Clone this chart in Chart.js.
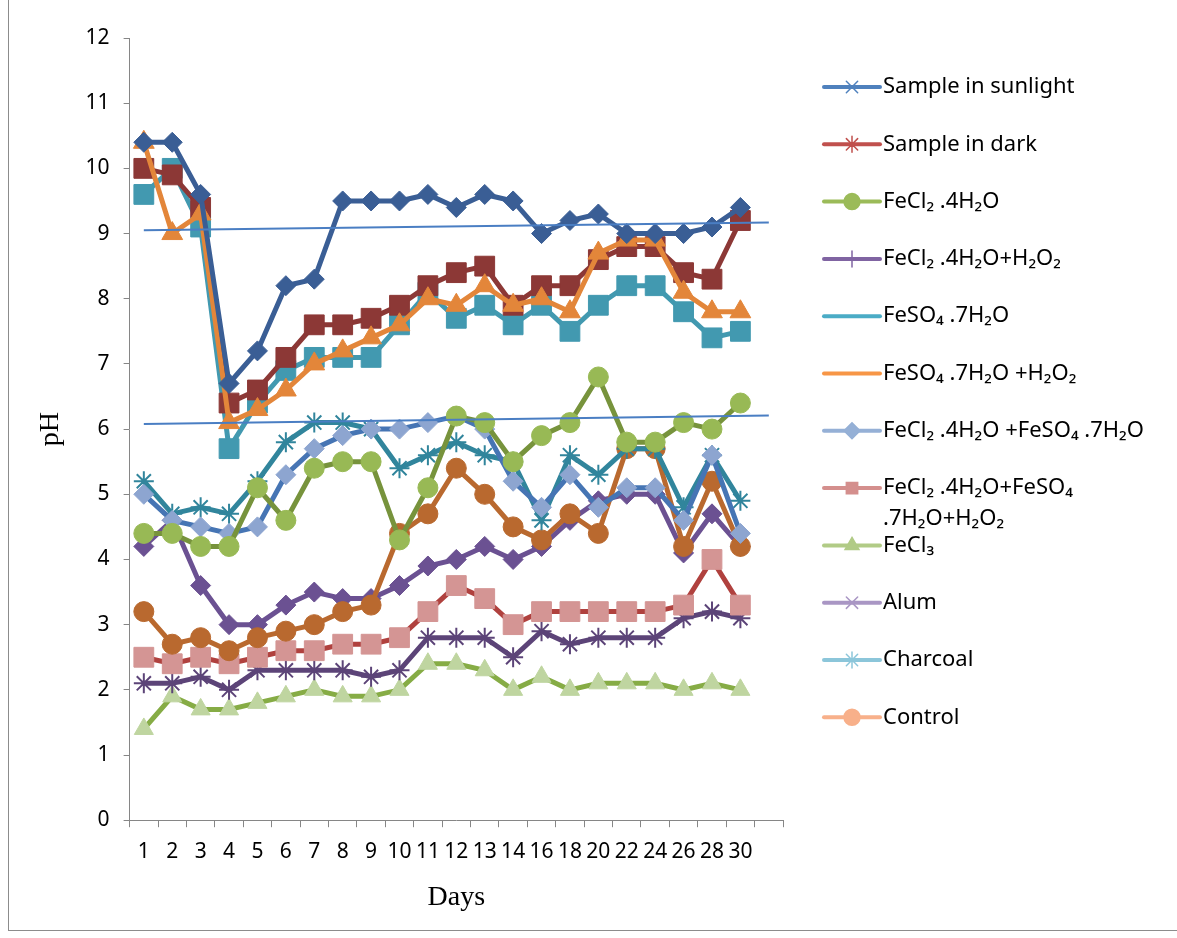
<!DOCTYPE html>
<html>
<head>
<meta charset="utf-8">
<script src="https://cdn.jsdelivr.net/npm/chart.js@4"></script>
<style>
  body { margin: 0; background: #fff; }
  #frame { position: absolute; left: 8px; top: -2px; width: 1169px; height: 933px; border-left: 1px solid #8c8c8c; border-bottom: 1px solid #8c8c8c; box-sizing: border-box; }
  #wrap { position: absolute; left: 9px; top: 0; width: 1168px; height: 929px; }
</style>
</head>
<body>
<div id="frame"></div>
<div id="wrap"><canvas id="phChart"></canvas></div>
<script>
// days of sampling (last slot is empty in the original axis)
var days = ['1', '2', '3', '4', '5', '6', '7', '8', '9', '10', '11', '12', '13', '14', '16', '18', '20', '22', '24', '26', '28', '30', ''];

var sunlight       = [10.4, 10.4, 9.6, 6.7, 7.2, 8.2, 8.3, 9.5, 9.5, 9.5, 9.6, 9.4, 9.6, 9.5, 9.0, 9.2, 9.3, 9.0, 9.0, 9.0, 9.1, 9.4];
var dark           = [10.0, 9.9, 9.4, 6.4, 6.6, 7.1, 7.6, 7.6, 7.7, 7.9, 8.2, 8.4, 8.5, 7.9, 8.2, 8.2, 8.6, 8.8, 8.8, 8.4, 8.3, 9.2];
var fecl2          = [4.4, 4.4, 4.2, 4.2, 5.1, 4.6, 5.4, 5.5, 5.5, 4.3, 5.1, 6.2, 6.1, 5.5, 5.9, 6.1, 6.8, 5.8, 5.8, 6.1, 6.0, 6.4];
var fecl2H2o2      = [2.1, 2.1, 2.2, 2.0, 2.3, 2.3, 2.3, 2.3, 2.2, 2.3, 2.8, 2.8, 2.8, 2.5, 2.9, 2.7, 2.8, 2.8, 2.8, 3.1, 3.2, 3.1];
var feso4          = [9.6, 10.0, 9.1, 5.7, 6.4, 6.9, 7.1, 7.1, 7.1, 7.6, 8.1, 7.7, 7.9, 7.6, 7.9, 7.5, 7.9, 8.2, 8.2, 7.8, 7.4, 7.5];
var feso4H2o2      = [10.4, 9.0, 9.3, 6.1, 6.3, 6.6, 7.0, 7.2, 7.4, 7.6, 8.0, 7.9, 8.2, 7.9, 8.0, 7.8, 8.7, 8.9, 8.9, 8.1, 7.8, 7.8];
var fecl2Feso4     = [5.0, 4.6, 4.5, 4.4, 4.5, 5.3, 5.7, 5.9, 6.0, 6.0, 6.1, 6.2, 6.0, 5.2, 4.8, 5.3, 4.8, 5.1, 5.1, 4.6, 5.6, 4.4];
var fecl2Feso4H2o2 = [2.5, 2.4, 2.5, 2.4, 2.5, 2.6, 2.6, 2.7, 2.7, 2.8, 3.2, 3.6, 3.4, 3.0, 3.2, 3.2, 3.2, 3.2, 3.2, 3.3, 4.0, 3.3];
var fecl3          = [1.4, 1.9, 1.7, 1.7, 1.8, 1.9, 2.0, 1.9, 1.9, 2.0, 2.4, 2.4, 2.3, 2.0, 2.2, 2.0, 2.1, 2.1, 2.1, 2.0, 2.1, 2.0];
var alum           = [4.2, 4.6, 3.6, 3.0, 3.0, 3.3, 3.5, 3.4, 3.4, 3.6, 3.9, 4.0, 4.2, 4.0, 4.2, 4.6, 4.9, 5.0, 5.0, 4.1, 4.7, 4.2];
var charcoal       = [5.2, 4.7, 4.8, 4.7, 5.2, 5.8, 6.1, 6.1, 6.0, 5.4, 5.6, 5.8, 5.6, 5.5, 4.6, 5.6, 5.3, 5.7, 5.7, 4.8, 5.6, 4.9];
var control        = [3.2, 2.7, 2.8, 2.6, 2.8, 2.9, 3.0, 3.2, 3.3, 4.4, 4.7, 5.4, 5.0, 4.5, 4.3, 4.7, 4.4, 5.7, 5.7, 4.2, 5.2, 4.2];

// the two straight trend lines (start value, end value)
var trendHigh = [9.05, 9.17];
var trendLow  = [6.08, 6.21];

var legendLabels = [
  'Sample in sunlight', 'Sample in dark', 'FeCl₂ .4H₂O', 'FeCl₂ .4H₂O+H₂O₂',
  'FeSO₄ .7H₂O', 'FeSO₄ .7H₂O +H₂O₂', 'FeCl₂ .4H₂O +FeSO₄ .7H₂O',
  ['FeCl₂ .4H₂O+FeSO₄', '.7H₂O+H₂O₂'], 'FeCl₃', 'Alum', 'Charcoal', 'Control'
];
var legendColors = ['#4F81BD', '#C0504D', '#9BBB59', '#8064A2', '#4BACC6', '#F79646',
                    '#95B0D6', '#D48F8D', '#B1CB86', '#A996C4', '#8CC6DA', '#F8B08A'];
var legendMarks = ['crossRot', 'star', 'circle', 'cross', null, null, 'rectRot', 'rect', 'triangle', 'crossRot', 'star', 'circle'];

function trendData(v) {
  var arr = days.map(function () { return null; });
  arr[0] = v[0];
  arr[days.length - 1] = v[1];
  return arr;
}

function series(label, data, line, point, style, radius) {
  return {
    label: label,
    data: data,
    borderColor: line,
    backgroundColor: point,
    pointBackgroundColor: point,
    pointBorderColor: point,
    pointStyle: style,
    pointRadius: radius,
    pointBorderWidth: style === 'star' || style === 'crossRot' ? 2 : 1,
    borderWidth: 5,
    tension: 0,
    order: 1
  };
}

var sideLegend = {
  id: 'sideLegend',
  afterDraw: function (chart) {
    var ctx = chart.ctx;
    var x0 = 815, x1 = 871, y0 = 87, step = 57.3;
    ctx.save();
    ctx.font = '22px "Noto Sans"';
    ctx.textBaseline = 'middle';
    legendLabels.forEach(function (label, i) {
      var cy = y0 + i * step;
      ctx.strokeStyle = legendColors[i];
      ctx.fillStyle = legendColors[i];
      ctx.lineWidth = 4;
      ctx.lineCap = 'round';
      ctx.beginPath();
      ctx.moveTo(x0, cy);
      ctx.lineTo(x1, cy);
      ctx.stroke();
      if (legendMarks[i]) {
        ctx.lineWidth = 1.5;
        Chart.helpers.drawPoint(ctx, { pointStyle: legendMarks[i], radius: 8, rotation: 0, borderWidth: 1.5 }, (x0 + x1) / 2, cy);
      }
      ctx.fillStyle = '#000';
      var lines = Array.isArray(label) ? label : [label];
      lines.forEach(function (t, j) {
        ctx.fillText(t, x1 + 3, cy + j * 31);
      });
    });
    ctx.restore();
  }
};

var ctx = document.getElementById('phChart').getContext('2d');
var phChart = new Chart(ctx, {
  type: 'line',
  data: {
    labels: days,
    datasets: [
      { label: 'trend1', data: trendData(trendHigh), borderColor: '#4A7EC3', borderWidth: 2, pointRadius: 0, spanGaps: true, order: 0 },
      { label: 'trend2', data: trendData(trendLow), borderColor: '#4A7EC3', borderWidth: 2, pointRadius: 0, spanGaps: true, order: 0 },
      series('Sample in sunlight', sunlight, '#3A5E95', '#3A5E95', 'rectRot', 10),
      series('FeSO4 .7H2O +H2O2', feso4H2o2, '#E3863A', '#E3863A', 'triangle', 12),
      series('Sample in dark', dark, '#8C3836', '#8C3836', 'rect', 14),
      series('FeSO4 .7H2O', feso4, '#4299B0', '#4299B0', 'rect', 14),
      series('FeCl2 .4H2O', fecl2, '#77933C', '#98B955', 'circle', 10),
      series('FeCl2 .4H2O +FeSO4 .7H2O', fecl2Feso4, '#4675B4', '#8DA5D0', 'rectRot', 10),
      series('Charcoal', charcoal, '#31859C', '#31859C', 'star', 10),
      series('Control', control, '#B9692F', '#B9692F', 'circle', 10),
      series('Alum', alum, '#6B5192', '#6B5192', 'rectRot', 10),
      series('FeCl2 .4H2O+FeSO4 .7H2O+H2O2', fecl2Feso4H2o2, '#B0413E', '#D49594', 'rect', 14),
      series('FeCl2 .4H2O+H2O2', fecl2H2o2, '#5C4478', '#5C4478', 'star', 10),
      series('FeCl3', fecl3, '#86AC45', '#BFD5A0', 'triangle', 11)
    ]
  },
  options: {
    responsive: true,
    maintainAspectRatio: false,
    animation: false,
    layout: { padding: { left: 21, right: 394, top: 38, bottom: 11 } },
    plugins: {
      legend: { display: false },
      tooltip: { enabled: false }
    },
    scales: {
      x: {
        offset: true,
        grid: { offset: true, drawOnChartArea: false, tickLength: 7, color: '#868686' },
        border: { color: '#868686' },
        ticks: { autoSkip: false, maxRotation: 0, color: '#000', padding: 12, font: { family: 'Noto Sans', size: 21 } },
        title: { display: true, text: 'Days', color: '#000', padding: { top: 4, bottom: 4 }, font: { family: 'Liberation Serif', size: 28 } }
      },
      y: {
        min: 0,
        max: 12,
        grid: { drawOnChartArea: false, tickLength: 6, color: '#868686' },
        border: { color: '#868686' },
        ticks: { stepSize: 1, color: '#000', padding: 14, font: { family: 'Noto Sans', size: 21 } },
        title: { display: true, text: 'pH', color: '#000', font: { family: 'Liberation Serif', size: 28 } }
      }
    }
  },
  plugins: [sideLegend]
});
</script>
</body>
</html>
